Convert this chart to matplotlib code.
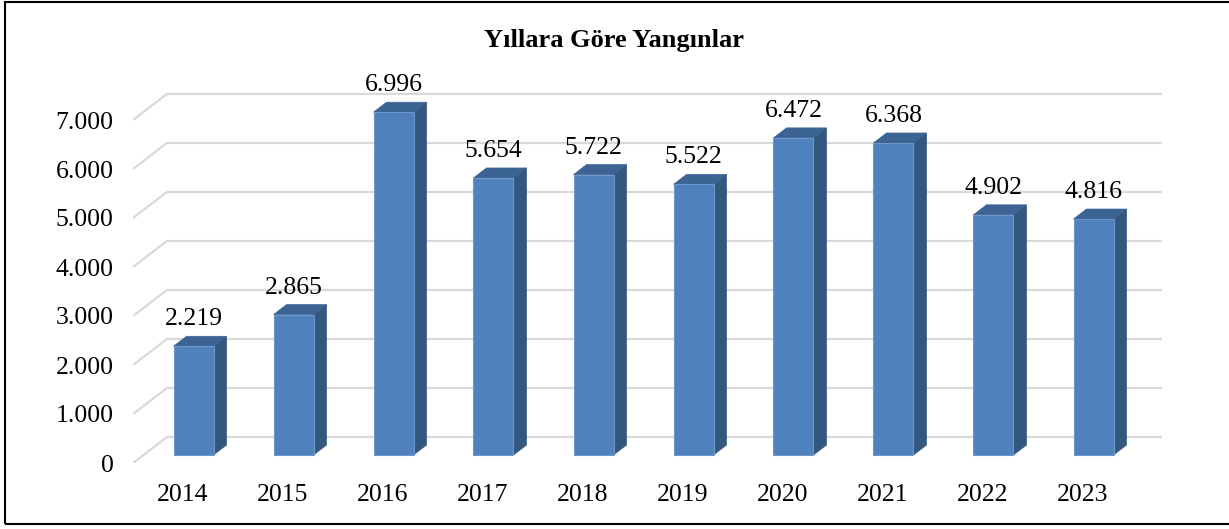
import matplotlib.pyplot as plt
from matplotlib.patches import Polygon, Rectangle

# yearly fire counts
years = ['2014', '2015', '2016', '2017', '2018', '2019', '2020', '2021', '2022', '2023']
fires = [2219, 2865, 6996, 5654, 5722, 5522, 6472, 6368, 4902, 4816]
y_ticks = [0, 1000, 2000, 3000, 4000, 5000, 6000, 7000]
y_tick_labels = ['0', '1.000', '2.000', '3.000', '4.000', '5.000', '6.000', '7.000']

plt.rcParams['font.family'] = ['Liberation Serif', 'DejaVu Serif']

W, H = 1229, 529
fig = plt.figure(figsize=(W / 100, H / 100), dpi=100)

# axes placed so that one category = 100 px and 1000 = 49 px
xmin, xmax = -0.5, 9.9
ymin, ymax = 0, 7700
ax = fig.add_axes([133 / W, 66 / H, (xmax - xmin) * 100 / W, (ymax - ymin) * 0.049 / H])
ax.set_xlim(xmin, xmax)
ax.set_ylim(ymin, ymax)

# 3D look: floor depth, bar offset and bar depth (x in categories, y in values)
floor_dx, floor_dy = 0.34, 531
off_dx, off_dy = 0.105, 163
bar_dx, bar_dy = 0.13, 204
bar_w = 0.4

front_c = '#4F81BD'
side_c = '#34577F'
top_c = '#3B6393'
edge_c = '#7197C9'

fs = 18.5

# back wall / side wall gridlines
for v in y_ticks:
    ax.plot([-0.5, -0.5 + floor_dx, 9.45 + floor_dx], [v, v + floor_dy, v + floor_dy],
            color='#D9D9D9', lw=1.6, zorder=1, solid_capstyle='butt')

for i, v in enumerate(fires):
    x0 = i + off_dx - bar_w / 2
    x1 = x0 + bar_w
    y0 = off_dy
    y1 = off_dy + v
    side = Polygon([(x1, y0), (x1 + bar_dx, y0 + bar_dy), (x1 + bar_dx, y1 + bar_dy), (x1, y1)],
                   closed=True, facecolor=side_c, edgecolor=side_c, lw=0.5, zorder=3)
    top = Polygon([(x0, y1), (x0 + bar_dx, y1 + bar_dy), (x1 + bar_dx, y1 + bar_dy), (x1, y1)],
                  closed=True, facecolor=top_c, edgecolor=top_c, lw=0.5, zorder=3)
    front = Rectangle((x0, y0), bar_w, v, facecolor=front_c, edgecolor=edge_c, lw=0.8, zorder=4)
    ax.add_patch(side)
    ax.add_patch(top)
    ax.add_patch(front)
    ax.annotate(f'{v:,}'.replace(',', '.'), xy=(i + off_dx, y1 + bar_dy), xytext=(0, 8),
                textcoords='offset points', ha='center', va='baseline',
                fontsize=fs, color='black', zorder=5, annotation_clip=False)

ax.set_xticks(range(len(years)))
ax.set_xticklabels(years, fontsize=fs)
ax.set_yticks(y_ticks)
ax.set_yticklabels(y_tick_labels, fontsize=fs)
ax.tick_params(axis='both', length=0)
ax.tick_params(axis='x', pad=15)
ax.tick_params(axis='y', pad=14)
for s in ax.spines.values():
    s.set_visible(False)

fig.text(0.5, 1 - 40 / H, 'Yıllara Göre Yangınlar', ha='center', va='center',
         fontsize=19, fontweight='bold')

# outer frame (right side runs off the canvas)
fig.add_artist(Rectangle((5 / W, 5 / H), 1230 / W, 522 / H, transform=fig.transFigure,
                         fill=False, edgecolor='black', lw=1.5))

fig.savefig('out.png', dpi=100)
